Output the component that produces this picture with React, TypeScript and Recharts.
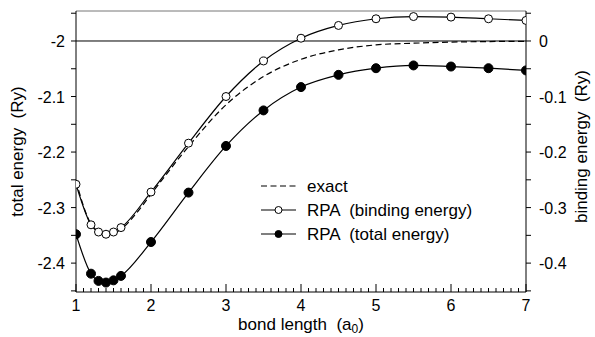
import React from 'react';
import {
  LineChart,
  Line,
  XAxis,
  YAxis,
  ReferenceLine,
} from 'recharts';

// bond length (a0) where RPA was computed
const rpaBondLengths = [1, 1.2, 1.3, 1.4, 1.5, 1.6, 2, 2.5, 3, 3.5, 4, 4.5, 5, 5.5, 6, 6.5, 7];
// total energy (Ry), open circles
const rpaBindingEnergy = [
  -2.258, -2.331, -2.344, -2.348, -2.344, -2.336, -2.272, -2.184, -2.1, -2.036, -1.995,
  -1.972, -1.96, -1.956, -1.957, -1.96, -1.963,
];
// total energy (Ry), filled circles
const rpaTotalEnergy = [
  -2.348, -2.419, -2.432, -2.435, -2.431, -2.423, -2.362, -2.273, -2.189, -2.125, -2.083,
  -2.061, -2.049, -2.044, -2.046, -2.049, -2.053,
];

// exact curve
const exactBondLengths = [1, 1.2, 1.4, 1.6, 1.8, 2, 2.5, 3, 3.5, 4, 4.5, 5, 5.5, 6, 6.5, 7];
const exactEnergy = [
  -2.252, -2.329, -2.349, -2.339, -2.311, -2.276, -2.19, -2.115, -2.064, -2.033, -2.016,
  -2.007, -2.004, -2.002, -2.001, -2.0005,
];

const xMajorTicks = [1, 2, 3, 4, 5, 6, 7];
const yMajorTicks = [-2, -2.1, -2.2, -2.3, -2.4];
const yMajorLabels = ['-2', '-2.1', '-2.2', '-2.3', '-2.4'];
const bindingLabels = ['0', '-0.1', '-0.2', '-0.3', '-0.4'];
const yMinorTicks = [-1.95, -2.05, -2.15, -2.25, -2.35, -2.45];

const Y_MIN = -2.452;
const Y_MAX = -1.946;
const FONT = '"Liberation Sans", Arial, sans-serif';
const TICK_FS = 16;
const TITLE_FS = 17;

const toPoints = (xs: number[], ys: number[]) => xs.map((x, i) => ({ x, y: ys[i] }));
const bindingData = toPoints(rpaBondLengths, rpaBindingEnergy);
const totalData = toPoints(rpaBondLengths, rpaTotalEnergy);
const exactData = toPoints(exactBondLengths, exactEnergy);

// every 0.1 a0 a small tick, integers get a long one
const xAllTicks: number[] = [];
for (let i = 10; i <= 70; i++) xAllTicks.push(i / 10);

const yAllTicks = [...yMajorTicks, ...yMinorTicks].sort((a, b) => a - b);

const XTick = (props: any) => {
  const { x, y, payload } = props;
  const v = payload.value;
  const major = xMajorTicks.some((t) => Math.abs(t - v) < 1e-6);
  return (
    <g>
      <line x1={x} x2={x} y1={y} y2={y - (major ? 8 : 4)} stroke="#000" strokeWidth={1} />
      {major && (
        <text x={x} y={y + 19} textAnchor="middle" fontSize={TICK_FS} fontFamily={FONT} fill="#000">
          {v}
        </text>
      )}
    </g>
  );
};

const makeYTick = (labels: string[], anchor: 'end' | 'start') => (props: any) => {
  const { x, y, payload } = props;
  const idx = yMajorTicks.findIndex((t) => Math.abs(t - payload.value) < 1e-6);
  if (idx < 0) return <g />;
  return (
    <text x={x} y={y + 6} textAnchor={anchor} fontSize={TICK_FS} fontFamily={FONT} fill="#000">
      {labels[idx]}
    </text>
  );
};

const LeftTick = makeYTick(yMajorLabels, 'end');
const RightTick = makeYTick(bindingLabels, 'start');

const legendRows = [
  { name: 'exact', kind: 'dashed' },
  { name: 'RPA  (binding energy)', kind: 'open' },
  { name: 'RPA  (total energy)', kind: 'filled' },
];

// legend sits inside the plot, drawn on top of the chart
const ChartLegend = () => (
  <div
    style={{
      position: 'absolute',
      left: 258,
      top: 174,
      fontFamily: FONT,
      fontSize: TITLE_FS,
      color: '#000',
      lineHeight: 1,
    }}
  >
    {legendRows.map((row) => (
      <div key={row.name} style={{ display: 'flex', alignItems: 'center', height: 24 }}>
        <svg width={40} height={12} style={{ marginRight: 9, flex: 'none' }}>
          <line
            x1={3}
            x2={38}
            y1={6}
            y2={6}
            stroke="#000"
            strokeWidth={1.2}
            strokeDasharray={row.kind === 'dashed' ? '6 3.5' : undefined}
          />
          {row.kind !== 'dashed' && (
            <circle
              cx={20.5}
              cy={6}
              r={3.5}
              fill={row.kind === 'filled' ? '#000' : '#fff'}
              stroke="#000"
              strokeWidth={1}
            />
          )}
        </svg>
        <span style={{ whiteSpace: 'pre' }}>{row.name}</span>
      </div>
    ))}
  </div>
);

const XTitle = (props: any) => {
  const { viewBox } = props;
  const cx = viewBox.x + viewBox.width / 2;
  return (
    <text x={cx} y={330} textAnchor="middle" fontSize={TITLE_FS} fontFamily={FONT} fill="#000" style={{ whiteSpace: 'pre' }}>
      bond length  (a
      <tspan dy={3} fontSize={12}>0</tspan>
      <tspan dy={-3}>)</tspan>
    </text>
  );
};

export default function App() {
  return (
    <div style={{ position: 'absolute', left: 0, top: 0, width: 595, height: 337, background: '#fff' }}>
      <LineChart width={595} height={337} margin={{ top: 11, right: 0, bottom: 0, left: 0 }}>
        <XAxis
          type="number"
          dataKey="x"
          domain={[1, 7]}
          ticks={xAllTicks}
          interval={0}
          tickLine={false}
          tickSize={0}
          tickMargin={0}
          tick={<XTick />}
          height={45}
          axisLine={{ stroke: '#000', strokeWidth: 1 }}
          allowDataOverflow
          label={<XTitle />}
        />
        <YAxis
          yAxisId="left"
          type="number"
          domain={[Y_MIN, Y_MAX]}
          ticks={yAllTicks}
          interval={0}
          tickSize={5}
          tickMargin={6}
          tickLine={{ stroke: '#000' }}
          tick={<LeftTick />}
          width={76}
          axisLine={{ stroke: '#000', strokeWidth: 1 }}
          allowDataOverflow
          label={{
            value: 'total energy\u00a0 (Ry)',
            angle: -90,
            position: 'center',
            dx: -21,
            style: { fontSize: TITLE_FS, fontFamily: FONT, fill: '#000' },
          }}
        />
        <YAxis
          yAxisId="right"
          orientation="right"
          type="number"
          domain={[Y_MIN, Y_MAX]}
          ticks={yAllTicks}
          interval={0}
          tickSize={5}
          tickMargin={8}
          tickLine={{ stroke: '#000' }}
          tick={<RightTick />}
          width={69}
          axisLine={{ stroke: '#000', strokeWidth: 1 }}
          allowDataOverflow
          label={{
            value: 'binding energy\u00a0 (Ry)',
            angle: -90,
            position: 'center',
            dx: 20,
            dy: -5,
            style: { fontSize: TITLE_FS, fontFamily: FONT, fill: '#000' },
          }}
        />
        <ReferenceLine yAxisId="left" y={Y_MAX} stroke="#777" strokeWidth={1} />
        <ReferenceLine yAxisId="left" y={-2} stroke="#000" strokeWidth={1} />
        <Line
          yAxisId="left"
          data={exactData}
          dataKey="y"
          type="monotone"
          stroke="#000"
          strokeWidth={1.2}
          strokeDasharray="6 3.5"
          dot={false}
          activeDot={false}
          isAnimationActive={false}
        />
        <Line
          yAxisId="left"
          data={bindingData}
          dataKey="y"
          type="monotone"
          stroke="#000"
          strokeWidth={1.2}
          dot={{ r: 4, fill: '#fff', stroke: '#000', strokeWidth: 1 }}
          activeDot={false}
          isAnimationActive={false}
        />
        <Line
          yAxisId="right"
          data={totalData}
          dataKey="y"
          type="monotone"
          stroke="#000"
          strokeWidth={1.2}
          dot={{ r: 4.5, fill: '#000', stroke: '#000', strokeWidth: 1 }}
          activeDot={false}
          isAnimationActive={false}
        />
      </LineChart>
      <ChartLegend />
    </div>
  );
}
